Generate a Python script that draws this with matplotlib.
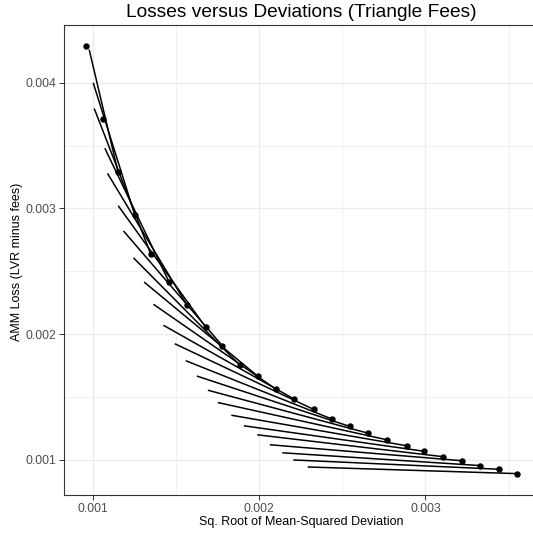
import matplotlib
matplotlib.use("Agg")
import matplotlib.pyplot as plt
from matplotlib.ticker import FixedLocator

# ---- data ----
# points (sqrt mean-squared deviation, AMM loss)
pt_x = [0.000960, 0.001060, 0.001154, 0.001254, 0.001350, 0.001460, 0.001566,
        0.001680, 0.001780, 0.001885, 0.001993, 0.002100, 0.002209, 0.002329,
        0.002436, 0.002545, 0.002653, 0.002767, 0.002887, 0.002993, 0.003106,
        0.003217, 0.003331, 0.003443, 0.003553]
pt_y = [0.004290, 0.003709, 0.003286, 0.002948, 0.002636, 0.002414, 0.002234,
        0.002054, 0.001907, 0.001753, 0.001664, 0.001563, 0.001484, 0.001400,
        0.001325, 0.001265, 0.001212, 0.001159, 0.001111, 0.001067, 0.001024,
        0.000992, 0.000953, 0.000924, 0.000889]

# segments: from point index seg_from[i] to left end (end_x[i], end_y[i])
seg_from = list(range(2, 25))
end_x = [0.000980, 0.001004, 0.001010, 0.001074, 0.001090, 0.001154, 0.001186,
         0.001246, 0.001310, 0.001366, 0.001426, 0.001494, 0.001560, 0.001626,
         0.001693, 0.001753, 0.001834, 0.001909, 0.001990, 0.002065, 0.002140,
         0.002206, 0.002293]
end_y = [0.004264, 0.004000, 0.003796, 0.003479, 0.003279, 0.003022, 0.002821,
         0.002607, 0.002414, 0.002237, 0.002070, 0.001923, 0.001788, 0.001666,
         0.001553, 0.001455, 0.001354, 0.001270, 0.001198, 0.001119, 0.001055,
         0.000998, 0.000942]

x_ticks = [0.001, 0.002, 0.003]
x_tick_labels = ["0.001", "0.002", "0.003"]
y_ticks = [0.001, 0.002, 0.003, 0.004]
y_tick_labels = ["0.001", "0.002", "0.003", "0.004"]
x_minor = [0.0015, 0.0025, 0.0035]
y_minor = [0.0015, 0.0025, 0.0035]

title = "Losses versus Deviations (Triangle Fees)"
xlabel = "Sq. Root of Mean-Squared Deviation"
ylabel = "AMM Loss (LVR minus fees)"

plt.rcParams['font.family'] = ['Liberation Sans', 'DejaVu Sans']

W = H = 533
DPI = 100
fig = plt.figure(figsize=(W / DPI, H / DPI), dpi=DPI)
fig.patch.set_facecolor("white")

# panel in pixels (extends slightly past the right edge, as in the reference)
pl, pr, pt, pb = 64.3, 539.0, 25.0, 495.0
ax = fig.add_axes([pl / W, (H - pb) / H, (pr - pl) / W, (pb - pt) / H])

# data limits with ggplot-like 5% expansion
xmin, xmax = min(pt_x + end_x), max(pt_x + end_x)
ymin, ymax = min(pt_y + end_y), max(pt_y + end_y)
dx, dy = (xmax - xmin) * 0.05, (ymax - ymin) * 0.05
ax.set_xlim(xmin - dx, xmax + dx)
ax.set_ylim(ymin - dy, ymax + dy)

# grid
for v in x_minor:
    ax.axvline(v, color="#EBEBEB", lw=0.5, zorder=0)
for v in y_minor:
    ax.axhline(v, color="#EBEBEB", lw=0.5, zorder=0)
for v in x_ticks:
    ax.axvline(v, color="#EBEBEB", lw=0.9, zorder=0)
for v in y_ticks:
    ax.axhline(v, color="#EBEBEB", lw=0.9, zorder=0)

# segments
for i, k in enumerate(seg_from):
    ax.plot([end_x[i], pt_x[k]], [end_y[i], pt_y[k]], color="black", lw=1.1,
            solid_capstyle="butt", zorder=2)

# points
ax.plot(pt_x, pt_y, linestyle="none", marker="o", markersize=3.6,
        color="black", zorder=3)

ax.xaxis.set_major_locator(FixedLocator(x_ticks))
ax.yaxis.set_major_locator(FixedLocator(y_ticks))
ax.set_xticklabels(x_tick_labels)
ax.set_yticklabels(y_tick_labels)
ax.tick_params(axis="both", which="major", direction="out", length=3.5,
               width=0.7, color="#333333", labelsize=8.8, labelcolor="#4D4D4D",
               pad=2.5)
for s in ax.spines.values():
    s.set_color("#333333")
    s.set_linewidth(0.8)

# titles placed in pixel coordinates
fig.text(301.5 / W, 1 - 12.5 / H, title, ha="center", va="center",
         fontsize=13.8, color="black")
fig.text(301.5 / W, 1 - 522.5 / H, xlabel, ha="center", va="center",
         fontsize=9.0, color="black")
fig.text(17.0 / W, 1 - 261.5 / H, ylabel, ha="center", va="center",
         rotation=90, fontsize=9.0, color="black")

fig.savefig("out.png", dpi=DPI, facecolor="white")
